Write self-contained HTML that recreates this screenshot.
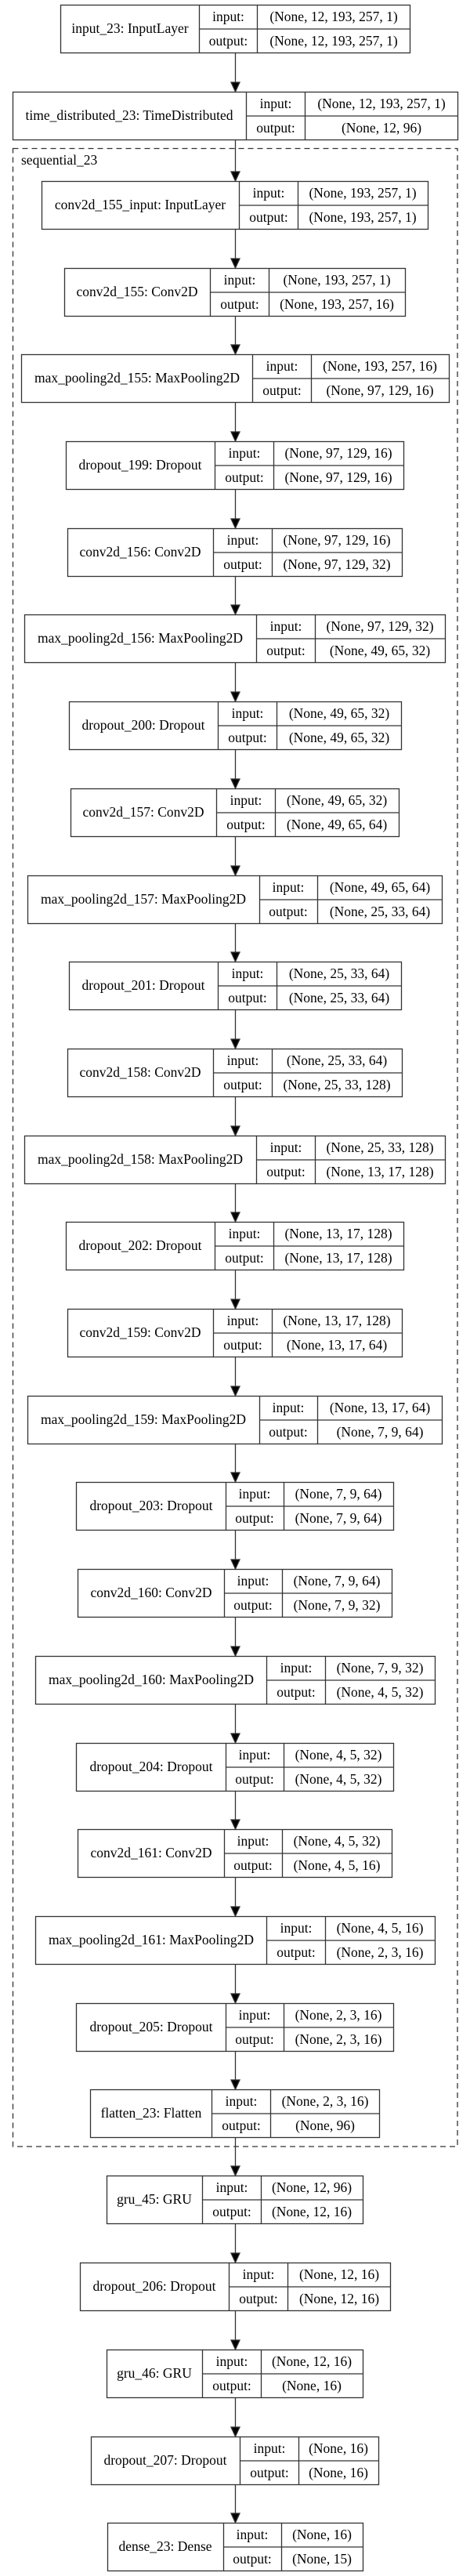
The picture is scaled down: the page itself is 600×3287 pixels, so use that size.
<!DOCTYPE html>
<html><head><meta charset="utf-8"><style>
html,body{margin:0;padding:0;background:#fff;}
svg{display:block;}
text{font-family:"Liberation Serif","Times New Roman",serif;font-size:17.5px;fill:#000;}
.b{fill:none;stroke:#333;stroke-width:1.3;}
.a{stroke:#333;stroke-width:1.3;}
</style></head><body>
<svg width="600" height="3287" viewBox="0 0 600 3287" xmlns="http://www.w3.org/2000/svg">
<rect x="16.5" y="189.5" width="567.5" height="2549.5" fill="none" stroke="#333" stroke-width="1.3" stroke-dasharray="7,5"/>
<text x="27" y="210">sequential_23</text>

<!-- Node template: rect, dividers, texts -->
<g id="n0">
<rect class="b" x="77.5" y="6.5" width="446" height="61"/>
<line class="a" x1="254.5" y1="6.5" x2="254.5" y2="67.5"/><line class="a" x1="328.5" y1="6.5" x2="328.5" y2="67.5"/><line class="a" x1="254.5" y1="37" x2="523.5" y2="37"/>
<text x="166" y="42" text-anchor="middle">input_23: InputLayer</text>
<text x="291.5" y="27" text-anchor="middle">input:</text><text x="291.5" y="58" text-anchor="middle">output:</text>
<text x="426" y="27" text-anchor="middle">(None, 12, 193, 257, 1)</text><text x="426" y="58" text-anchor="middle">(None, 12, 193, 257, 1)</text>
</g>

<g>
<rect class="b" x="16.5" y="117.5" width="568" height="61"/>
<line class="a" x1="314.5" y1="117.5" x2="314.5" y2="178.5"/><line class="a" x1="389.5" y1="117.5" x2="389.5" y2="178.5"/><line class="a" x1="314.5" y1="148" x2="584.5" y2="148"/>
<text x="165" y="153" text-anchor="middle">time_distributed_23: TimeDistributed</text>
<text x="352" y="138" text-anchor="middle">input:</text><text x="352" y="169" text-anchor="middle">output:</text>
<text x="487" y="138" text-anchor="middle">(None, 12, 193, 257, 1)</text><text x="487" y="169" text-anchor="middle">(None, 12, 96)</text>
</g>

<g>
<rect class="b" x="53.5" y="231.5" width="493" height="61"/>
<line class="a" x1="305.5" y1="231.5" x2="305.5" y2="292.5"/><line class="a" x1="380.5" y1="231.5" x2="380.5" y2="292.5"/><line class="a" x1="305.5" y1="262" x2="546.5" y2="262"/>
<text x="179" y="267" text-anchor="middle">conv2d_155_input: InputLayer</text>
<text x="343" y="252" text-anchor="middle">input:</text><text x="343" y="283" text-anchor="middle">output:</text>
<text x="463" y="252" text-anchor="middle">(None, 193, 257, 1)</text><text x="463" y="283" text-anchor="middle">(None, 193, 257, 1)</text>
</g>

<g>
<rect class="b" x="82.5" y="342.5" width="435" height="61"/>
<line class="a" x1="268.5" y1="342.5" x2="268.5" y2="403.5"/><line class="a" x1="343.5" y1="342.5" x2="343.5" y2="403.5"/><line class="a" x1="268.5" y1="373" x2="517.5" y2="373"/>
<text x="175" y="378" text-anchor="middle">conv2d_155: Conv2D</text>
<text x="306" y="363" text-anchor="middle">input:</text><text x="306" y="394" text-anchor="middle">output:</text>
<text x="430" y="363" text-anchor="middle">(None, 193, 257, 1)</text><text x="430" y="394" text-anchor="middle">(None, 193, 257, 16)</text>
</g>

<g>
<rect class="b" x="27.5" y="452.5" width="546" height="61"/>
<line class="a" x1="322.5" y1="452.5" x2="322.5" y2="513.5"/><line class="a" x1="397.5" y1="452.5" x2="397.5" y2="513.5"/><line class="a" x1="322.5" y1="483" x2="573.5" y2="483"/>
<text x="175" y="488" text-anchor="middle">max_pooling2d_155: MaxPooling2D</text>
<text x="360" y="473" text-anchor="middle">input:</text><text x="360" y="504" text-anchor="middle">output:</text>
<text x="485" y="473" text-anchor="middle">(None, 193, 257, 16)</text><text x="485" y="504" text-anchor="middle">(None, 97, 129, 16)</text>
</g>

<g>
<rect class="b" x="84.5" y="563.5" width="431" height="61"/>
<line class="a" x1="274.5" y1="563.5" x2="274.5" y2="624.5"/><line class="a" x1="349.5" y1="563.5" x2="349.5" y2="624.5"/><line class="a" x1="274.5" y1="594" x2="515.5" y2="594"/>
<text x="179" y="599" text-anchor="middle">dropout_199: Dropout</text>
<text x="312" y="584" text-anchor="middle">input:</text><text x="312" y="615" text-anchor="middle">output:</text>
<text x="432" y="584" text-anchor="middle">(None, 97, 129, 16)</text><text x="432" y="615" text-anchor="middle">(None, 97, 129, 16)</text>
</g>

<g>
<rect class="b" x="86.5" y="674.5" width="427" height="61"/>
<line class="a" x1="272.5" y1="674.5" x2="272.5" y2="735.5"/><line class="a" x1="347.5" y1="674.5" x2="347.5" y2="735.5"/><line class="a" x1="272.5" y1="705" x2="513.5" y2="705"/>
<text x="179" y="710" text-anchor="middle">conv2d_156: Conv2D</text>
<text x="310" y="695" text-anchor="middle">input:</text><text x="310" y="726" text-anchor="middle">output:</text>
<text x="430" y="695" text-anchor="middle">(None, 97, 129, 16)</text><text x="430" y="726" text-anchor="middle">(None, 97, 129, 32)</text>
</g>

<g>
<rect class="b" x="31.5" y="784.5" width="537" height="61"/>
<line class="a" x1="327.5" y1="784.5" x2="327.5" y2="845.5"/><line class="a" x1="402.5" y1="784.5" x2="402.5" y2="845.5"/><line class="a" x1="327.5" y1="815" x2="568.5" y2="815"/>
<text x="179" y="820" text-anchor="middle">max_pooling2d_156: MaxPooling2D</text>
<text x="365" y="805" text-anchor="middle">input:</text><text x="365" y="836" text-anchor="middle">output:</text>
<text x="485" y="805" text-anchor="middle">(None, 97, 129, 32)</text><text x="485" y="836" text-anchor="middle">(None, 49, 65, 32)</text>
</g>

<g>
<rect class="b" x="88.5" y="895.5" width="424" height="61"/>
<line class="a" x1="278.5" y1="895.5" x2="278.5" y2="956.5"/><line class="a" x1="353.5" y1="895.5" x2="353.5" y2="956.5"/><line class="a" x1="278.5" y1="926" x2="512.5" y2="926"/>
<text x="183" y="931" text-anchor="middle">dropout_200: Dropout</text>
<text x="316" y="916" text-anchor="middle">input:</text><text x="316" y="947" text-anchor="middle">output:</text>
<text x="433" y="916" text-anchor="middle">(None, 49, 65, 32)</text><text x="433" y="947" text-anchor="middle">(None, 49, 65, 32)</text>
</g>

<g>
<rect class="b" x="90.5" y="1006.5" width="419" height="61"/>
<line class="a" x1="276.5" y1="1006.5" x2="276.5" y2="1067.5"/><line class="a" x1="351.5" y1="1006.5" x2="351.5" y2="1067.5"/><line class="a" x1="276.5" y1="1037" x2="509.5" y2="1037"/>
<text x="183" y="1042" text-anchor="middle">conv2d_157: Conv2D</text>
<text x="314" y="1027" text-anchor="middle">input:</text><text x="314" y="1058" text-anchor="middle">output:</text>
<text x="430" y="1027" text-anchor="middle">(None, 49, 65, 32)</text><text x="430" y="1058" text-anchor="middle">(None, 49, 65, 64)</text>
</g>

<g>
<rect class="b" x="35.5" y="1117.5" width="529" height="61"/>
<line class="a" x1="331.5" y1="1117.5" x2="331.5" y2="1178.5"/><line class="a" x1="405.5" y1="1117.5" x2="405.5" y2="1178.5"/><line class="a" x1="331.5" y1="1148" x2="564.5" y2="1148"/>
<text x="183" y="1153" text-anchor="middle">max_pooling2d_157: MaxPooling2D</text>
<text x="368" y="1138" text-anchor="middle">input:</text><text x="368" y="1169" text-anchor="middle">output:</text>
<text x="485" y="1138" text-anchor="middle">(None, 49, 65, 64)</text><text x="485" y="1169" text-anchor="middle">(None, 25, 33, 64)</text>
</g>

<g>
<rect class="b" x="88.5" y="1227.5" width="424" height="61"/>
<line class="a" x1="278.5" y1="1227.5" x2="278.5" y2="1288.5"/><line class="a" x1="353.5" y1="1227.5" x2="353.5" y2="1288.5"/><line class="a" x1="278.5" y1="1258" x2="512.5" y2="1258"/>
<text x="183" y="1263" text-anchor="middle">dropout_201: Dropout</text>
<text x="316" y="1248" text-anchor="middle">input:</text><text x="316" y="1279" text-anchor="middle">output:</text>
<text x="433" y="1248" text-anchor="middle">(None, 25, 33, 64)</text><text x="433" y="1279" text-anchor="middle">(None, 25, 33, 64)</text>
</g>

<g>
<rect class="b" x="86.5" y="1338.5" width="427" height="61"/>
<line class="a" x1="272.5" y1="1338.5" x2="272.5" y2="1399.5"/><line class="a" x1="347.5" y1="1338.5" x2="347.5" y2="1399.5"/><line class="a" x1="272.5" y1="1369" x2="513.5" y2="1369"/>
<text x="179" y="1374" text-anchor="middle">conv2d_158: Conv2D</text>
<text x="310" y="1359" text-anchor="middle">input:</text><text x="310" y="1390" text-anchor="middle">output:</text>
<text x="430" y="1359" text-anchor="middle">(None, 25, 33, 64)</text><text x="430" y="1390" text-anchor="middle">(None, 25, 33, 128)</text>
</g>

<g>
<rect class="b" x="31.5" y="1449.5" width="537" height="61"/>
<line class="a" x1="327.5" y1="1449.5" x2="327.5" y2="1510.5"/><line class="a" x1="402.5" y1="1449.5" x2="402.5" y2="1510.5"/><line class="a" x1="327.5" y1="1480" x2="568.5" y2="1480"/>
<text x="179" y="1485" text-anchor="middle">max_pooling2d_158: MaxPooling2D</text>
<text x="365" y="1470" text-anchor="middle">input:</text><text x="365" y="1501" text-anchor="middle">output:</text>
<text x="485" y="1470" text-anchor="middle">(None, 25, 33, 128)</text><text x="485" y="1501" text-anchor="middle">(None, 13, 17, 128)</text>
</g>

<g>
<rect class="b" x="84.5" y="1559.5" width="431" height="61"/>
<line class="a" x1="274.5" y1="1559.5" x2="274.5" y2="1620.5"/><line class="a" x1="349.5" y1="1559.5" x2="349.5" y2="1620.5"/><line class="a" x1="274.5" y1="1590" x2="515.5" y2="1590"/>
<text x="179" y="1595" text-anchor="middle">dropout_202: Dropout</text>
<text x="312" y="1580" text-anchor="middle">input:</text><text x="312" y="1611" text-anchor="middle">output:</text>
<text x="432" y="1580" text-anchor="middle">(None, 13, 17, 128)</text><text x="432" y="1611" text-anchor="middle">(None, 13, 17, 128)</text>
</g>

<g>
<rect class="b" x="86.5" y="1670.5" width="427" height="61"/>
<line class="a" x1="272.5" y1="1670.5" x2="272.5" y2="1731.5"/><line class="a" x1="347.5" y1="1670.5" x2="347.5" y2="1731.5"/><line class="a" x1="272.5" y1="1701" x2="513.5" y2="1701"/>
<text x="179" y="1706" text-anchor="middle">conv2d_159: Conv2D</text>
<text x="310" y="1691" text-anchor="middle">input:</text><text x="310" y="1722" text-anchor="middle">output:</text>
<text x="430" y="1691" text-anchor="middle">(None, 13, 17, 128)</text><text x="430" y="1722" text-anchor="middle">(None, 13, 17, 64)</text>
</g>

<g>
<rect class="b" x="35.5" y="1781.5" width="529" height="61"/>
<line class="a" x1="331.5" y1="1781.5" x2="331.5" y2="1842.5"/><line class="a" x1="405.5" y1="1781.5" x2="405.5" y2="1842.5"/><line class="a" x1="331.5" y1="1812" x2="564.5" y2="1812"/>
<text x="183" y="1817" text-anchor="middle">max_pooling2d_159: MaxPooling2D</text>
<text x="368" y="1802" text-anchor="middle">input:</text><text x="368" y="1833" text-anchor="middle">output:</text>
<text x="485" y="1802" text-anchor="middle">(None, 13, 17, 64)</text><text x="485" y="1833" text-anchor="middle">(None, 7, 9, 64)</text>
</g>

<g>
<rect class="b" x="97.5" y="1891.5" width="405" height="61"/>
<line class="a" x1="288.5" y1="1891.5" x2="288.5" y2="1952.5"/><line class="a" x1="362.5" y1="1891.5" x2="362.5" y2="1952.5"/><line class="a" x1="288.5" y1="1922" x2="502.5" y2="1922"/>
<text x="193" y="1927" text-anchor="middle">dropout_203: Dropout</text>
<text x="325" y="1912" text-anchor="middle">input:</text><text x="325" y="1943" text-anchor="middle">output:</text>
<text x="432" y="1912" text-anchor="middle">(None, 7, 9, 64)</text><text x="432" y="1943" text-anchor="middle">(None, 7, 9, 64)</text>
</g>

<g>
<rect class="b" x="99.5" y="2002.5" width="401" height="61"/>
<line class="a" x1="286.5" y1="2002.5" x2="286.5" y2="2063.5"/><line class="a" x1="360.5" y1="2002.5" x2="360.5" y2="2063.5"/><line class="a" x1="286.5" y1="2033" x2="500.5" y2="2033"/>
<text x="193" y="2038" text-anchor="middle">conv2d_160: Conv2D</text>
<text x="323" y="2023" text-anchor="middle">input:</text><text x="323" y="2054" text-anchor="middle">output:</text>
<text x="430" y="2023" text-anchor="middle">(None, 7, 9, 64)</text><text x="430" y="2054" text-anchor="middle">(None, 7, 9, 32)</text>
</g>

<g>
<rect class="b" x="45.5" y="2113.5" width="510" height="61"/>
<line class="a" x1="340.5" y1="2113.5" x2="340.5" y2="2174.5"/><line class="a" x1="415.5" y1="2113.5" x2="415.5" y2="2174.5"/><line class="a" x1="340.5" y1="2144" x2="555.5" y2="2144"/>
<text x="193" y="2149" text-anchor="middle">max_pooling2d_160: MaxPooling2D</text>
<text x="378" y="2134" text-anchor="middle">input:</text><text x="378" y="2165" text-anchor="middle">output:</text>
<text x="485" y="2134" text-anchor="middle">(None, 7, 9, 32)</text><text x="485" y="2165" text-anchor="middle">(None, 4, 5, 32)</text>
</g>

<g>
<rect class="b" x="97.5" y="2224.5" width="405" height="61"/>
<line class="a" x1="288.5" y1="2224.5" x2="288.5" y2="2285.5"/><line class="a" x1="362.5" y1="2224.5" x2="362.5" y2="2285.5"/><line class="a" x1="288.5" y1="2255" x2="502.5" y2="2255"/>
<text x="193" y="2260" text-anchor="middle">dropout_204: Dropout</text>
<text x="325" y="2245" text-anchor="middle">input:</text><text x="325" y="2276" text-anchor="middle">output:</text>
<text x="432" y="2245" text-anchor="middle">(None, 4, 5, 32)</text><text x="432" y="2276" text-anchor="middle">(None, 4, 5, 32)</text>
</g>

<g>
<rect class="b" x="99.5" y="2334.5" width="401" height="61"/>
<line class="a" x1="286.5" y1="2334.5" x2="286.5" y2="2395.5"/><line class="a" x1="360.5" y1="2334.5" x2="360.5" y2="2395.5"/><line class="a" x1="286.5" y1="2365" x2="500.5" y2="2365"/>
<text x="193" y="2370" text-anchor="middle">conv2d_161: Conv2D</text>
<text x="323" y="2355" text-anchor="middle">input:</text><text x="323" y="2386" text-anchor="middle">output:</text>
<text x="430" y="2355" text-anchor="middle">(None, 4, 5, 32)</text><text x="430" y="2386" text-anchor="middle">(None, 4, 5, 16)</text>
</g>

<g>
<rect class="b" x="45.5" y="2445.5" width="510" height="61"/>
<line class="a" x1="340.5" y1="2445.5" x2="340.5" y2="2506.5"/><line class="a" x1="415.5" y1="2445.5" x2="415.5" y2="2506.5"/><line class="a" x1="340.5" y1="2476" x2="555.5" y2="2476"/>
<text x="193" y="2481" text-anchor="middle">max_pooling2d_161: MaxPooling2D</text>
<text x="378" y="2466" text-anchor="middle">input:</text><text x="378" y="2497" text-anchor="middle">output:</text>
<text x="485" y="2466" text-anchor="middle">(None, 4, 5, 16)</text><text x="485" y="2497" text-anchor="middle">(None, 2, 3, 16)</text>
</g>

<g>
<rect class="b" x="97.5" y="2556.5" width="405" height="61"/>
<line class="a" x1="288.5" y1="2556.5" x2="288.5" y2="2617.5"/><line class="a" x1="362.5" y1="2556.5" x2="362.5" y2="2617.5"/><line class="a" x1="288.5" y1="2587" x2="502.5" y2="2587"/>
<text x="193" y="2592" text-anchor="middle">dropout_205: Dropout</text>
<text x="325" y="2577" text-anchor="middle">input:</text><text x="325" y="2608" text-anchor="middle">output:</text>
<text x="432" y="2577" text-anchor="middle">(None, 2, 3, 16)</text><text x="432" y="2608" text-anchor="middle">(None, 2, 3, 16)</text>
</g>

<g>
<rect class="b" x="115.5" y="2666.5" width="369" height="61"/>
<line class="a" x1="270.5" y1="2666.5" x2="270.5" y2="2727.5"/><line class="a" x1="345.5" y1="2666.5" x2="345.5" y2="2727.5"/><line class="a" x1="270.5" y1="2697" x2="484.5" y2="2697"/>
<text x="193" y="2702" text-anchor="middle">flatten_23: Flatten</text>
<text x="308" y="2687" text-anchor="middle">input:</text><text x="308" y="2718" text-anchor="middle">output:</text>
<text x="415" y="2687" text-anchor="middle">(None, 2, 3, 16)</text><text x="415" y="2718" text-anchor="middle">(None, 96)</text>
</g>

<g>
<rect class="b" x="136.5" y="2776.5" width="327" height="61"/>
<line class="a" x1="258.5" y1="2776.5" x2="258.5" y2="2837.5"/><line class="a" x1="333.5" y1="2776.5" x2="333.5" y2="2837.5"/><line class="a" x1="258.5" y1="2807" x2="463.5" y2="2807"/>
<text x="197" y="2812" text-anchor="middle">gru_45: GRU</text>
<text x="296" y="2797" text-anchor="middle">input:</text><text x="296" y="2828" text-anchor="middle">output:</text>
<text x="398" y="2797" text-anchor="middle">(None, 12, 96)</text><text x="398" y="2828" text-anchor="middle">(None, 12, 16)</text>
</g>

<g>
<rect class="b" x="102.5" y="2887.5" width="396" height="61"/>
<line class="a" x1="292.5" y1="2887.5" x2="292.5" y2="2948.5"/><line class="a" x1="367.5" y1="2887.5" x2="367.5" y2="2948.5"/><line class="a" x1="292.5" y1="2918" x2="498.5" y2="2918"/>
<text x="197" y="2923" text-anchor="middle">dropout_206: Dropout</text>
<text x="330" y="2908" text-anchor="middle">input:</text><text x="330" y="2939" text-anchor="middle">output:</text>
<text x="433" y="2908" text-anchor="middle">(None, 12, 16)</text><text x="433" y="2939" text-anchor="middle">(None, 12, 16)</text>
</g>

<g>
<rect class="b" x="136.5" y="2998.5" width="327" height="61"/>
<line class="a" x1="258.5" y1="2998.5" x2="258.5" y2="3059.5"/><line class="a" x1="333.5" y1="2998.5" x2="333.5" y2="3059.5"/><line class="a" x1="258.5" y1="3029" x2="463.5" y2="3029"/>
<text x="197" y="3034" text-anchor="middle">gru_46: GRU</text>
<text x="296" y="3019" text-anchor="middle">input:</text><text x="296" y="3050" text-anchor="middle">output:</text>
<text x="398" y="3019" text-anchor="middle">(None, 12, 16)</text><text x="398" y="3050" text-anchor="middle">(None, 16)</text>
</g>

<g>
<rect class="b" x="116.5" y="3109.5" width="367" height="61"/>
<line class="a" x1="306.5" y1="3109.5" x2="306.5" y2="3170.5"/><line class="a" x1="381.5" y1="3109.5" x2="381.5" y2="3170.5"/><line class="a" x1="306.5" y1="3140" x2="483.5" y2="3140"/>
<text x="211" y="3145" text-anchor="middle">dropout_207: Dropout</text>
<text x="344" y="3130" text-anchor="middle">input:</text><text x="344" y="3161" text-anchor="middle">output:</text>
<text x="432" y="3130" text-anchor="middle">(None, 16)</text><text x="432" y="3161" text-anchor="middle">(None, 16)</text>
</g>

<g>
<rect class="b" x="137.5" y="3219.5" width="326" height="61"/>
<line class="a" x1="285.5" y1="3219.5" x2="285.5" y2="3280.5"/><line class="a" x1="359.5" y1="3219.5" x2="359.5" y2="3280.5"/><line class="a" x1="285.5" y1="3250" x2="463.5" y2="3250"/>
<text x="211" y="3255" text-anchor="middle">dense_23: Dense</text>
<text x="322" y="3240" text-anchor="middle">input:</text><text x="322" y="3271" text-anchor="middle">output:</text>
<text x="411" y="3240" text-anchor="middle">(None, 16)</text><text x="411" y="3271" text-anchor="middle">(None, 15)</text>
</g>

<!-- arrows -->
<g stroke="#333" stroke-width="1.3" fill="#000">
<line x1="300.5" y1="68" x2="300.5" y2="106"/><polygon points="295,105 306,105 300.5,117"/>
<line x1="300.5" y1="179" x2="300.5" y2="220"/><polygon points="295,219 306,219 300.5,231"/>
<line x1="300.5" y1="293" x2="300.5" y2="331"/><polygon points="295,330 306,330 300.5,342"/>
<line x1="300.5" y1="404" x2="300.5" y2="441"/><polygon points="295,440 306,440 300.5,452"/>
<line x1="300.5" y1="514" x2="300.5" y2="552"/><polygon points="295,551 306,551 300.5,563"/>
<line x1="300.5" y1="625" x2="300.5" y2="663"/><polygon points="295,662 306,662 300.5,674"/>
<line x1="300.5" y1="736" x2="300.5" y2="773"/><polygon points="295,772 306,772 300.5,784"/>
<line x1="300.5" y1="846" x2="300.5" y2="884"/><polygon points="295,883 306,883 300.5,895"/>
<line x1="300.5" y1="957" x2="300.5" y2="995"/><polygon points="295,994 306,994 300.5,1006"/>
<line x1="300.5" y1="1068" x2="300.5" y2="1106"/><polygon points="295,1105 306,1105 300.5,1117"/>
<line x1="300.5" y1="1179" x2="300.5" y2="1216"/><polygon points="295,1215 306,1215 300.5,1227"/>
<line x1="300.5" y1="1289" x2="300.5" y2="1327"/><polygon points="295,1326 306,1326 300.5,1338"/>
<line x1="300.5" y1="1400" x2="300.5" y2="1438"/><polygon points="295,1437 306,1437 300.5,1449"/>
<line x1="300.5" y1="1511" x2="300.5" y2="1548"/><polygon points="295,1547 306,1547 300.5,1559"/>
<line x1="300.5" y1="1621" x2="300.5" y2="1659"/><polygon points="295,1658 306,1658 300.5,1670"/>
<line x1="300.5" y1="1732" x2="300.5" y2="1770"/><polygon points="295,1769 306,1769 300.5,1781"/>
<line x1="300.5" y1="1843" x2="300.5" y2="1880"/><polygon points="295,1879 306,1879 300.5,1891"/>
<line x1="300.5" y1="1953" x2="300.5" y2="1991"/><polygon points="295,1990 306,1990 300.5,2002"/>
<line x1="300.5" y1="2064" x2="300.5" y2="2102"/><polygon points="295,2101 306,2101 300.5,2113"/>
<line x1="300.5" y1="2175" x2="300.5" y2="2213"/><polygon points="295,2212 306,2212 300.5,2224"/>
<line x1="300.5" y1="2286" x2="300.5" y2="2323"/><polygon points="295,2322 306,2322 300.5,2334"/>
<line x1="300.5" y1="2396" x2="300.5" y2="2434"/><polygon points="295,2433 306,2433 300.5,2445"/>
<line x1="300.5" y1="2507" x2="300.5" y2="2545"/><polygon points="295,2544 306,2544 300.5,2556"/>
<line x1="300.5" y1="2618" x2="300.5" y2="2655"/><polygon points="295,2654 306,2654 300.5,2666"/>
<line x1="300.5" y1="2728" x2="300.5" y2="2765"/><polygon points="295,2764 306,2764 300.5,2776"/>
<line x1="300.5" y1="2838" x2="300.5" y2="2876"/><polygon points="295,2875 306,2875 300.5,2887"/>
<line x1="300.5" y1="2949" x2="300.5" y2="2987"/><polygon points="295,2986 306,2986 300.5,2998"/>
<line x1="300.5" y1="3060" x2="300.5" y2="3098"/><polygon points="295,3097 306,3097 300.5,3109"/>
<line x1="300.5" y1="3171" x2="300.5" y2="3208"/><polygon points="295,3207 306,3207 300.5,3219"/>
</g>
</svg>
</body></html>
